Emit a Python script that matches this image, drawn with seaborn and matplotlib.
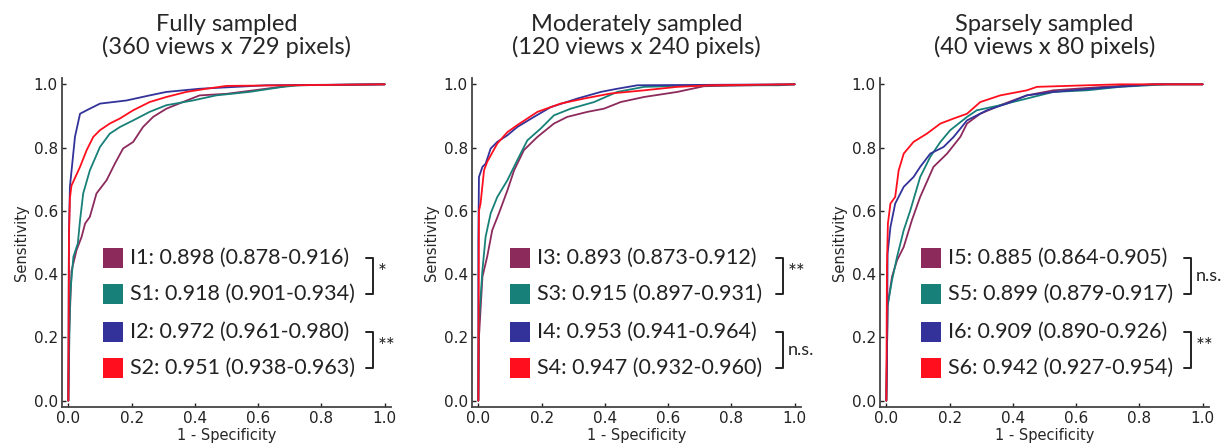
import pandas as pd
import matplotlib.pyplot as plt
import seaborn as sns
from matplotlib.patches import Rectangle

# panel titles
titles = ["Fully sampled\n(360 views x 729 pixels)",
          "Moderately sampled\n(120 views x 240 pixels)",
          "Sparsely sampled\n(40 views x 80 pixels)"]

# curve names per panel
names = [["I1", "S1", "I2", "S2"],
         ["I3", "S3", "I4", "S4"],
         ["I5", "S5", "I6", "S6"]]

# AUC (95% CI) per curve
auc = {"I1": "0.898 (0.878-0.916)", "S1": "0.918 (0.901-0.934)",
       "I2": "0.972 (0.961-0.980)", "S2": "0.951 (0.938-0.963)",
       "I3": "0.893 (0.873-0.912)", "S3": "0.915 (0.897-0.931)",
       "I4": "0.953 (0.941-0.964)", "S4": "0.947 (0.932-0.960)",
       "I5": "0.885 (0.864-0.905)", "S5": "0.899 (0.879-0.917)",
       "I6": "0.909 (0.890-0.926)", "S6": "0.942 (0.927-0.954)"}

# significance marks for the two pairs in each panel
sig = [["*", "**"], ["**", "n.s."], ["n.s.", "**"]]

# ROC points
fpr_I1 = [0, 0.002, 0.01, 0.026, 0.042, 0.053, 0.068, 0.089, 0.121, 0.147, 0.173, 0.205, 0.236, 0.268, 0.31, 0.362, 0.415, 0.5, 0.625, 0.709, 1.0]
tpr_I1 = [0, 0.2, 0.41, 0.476, 0.518, 0.56, 0.581, 0.655, 0.697, 0.749, 0.797, 0.818, 0.865, 0.897, 0.923, 0.944, 0.965, 0.97, 0.986, 0.997, 1.0]
fpr_S1 = [0, 0.005, 0.007, 0.016, 0.03, 0.037, 0.047, 0.068, 0.1, 0.131, 0.163, 0.205, 0.257, 0.31, 0.394, 0.467, 0.572, 0.678, 0.73, 1.0]
tpr_S1 = [0, 0.3, 0.35, 0.455, 0.497, 0.57, 0.655, 0.728, 0.802, 0.844, 0.865, 0.886, 0.913, 0.934, 0.949, 0.965, 0.976, 0.992, 0.997, 1.0]
fpr_I2 = [0, 0.002, 0.005, 0.021, 0.037, 0.058, 0.1, 0.184, 0.257, 0.31, 0.415, 0.625, 1.0]
tpr_I2 = [0, 0.53, 0.676, 0.834, 0.907, 0.918, 0.939, 0.949, 0.965, 0.976, 0.986, 0.997, 1.0]
fpr_S2 = [0, 0.002, 0.005, 0.01, 0.037, 0.058, 0.079, 0.1, 0.131, 0.163, 0.205, 0.257, 0.31, 0.373, 0.436, 0.5, 1.0]
tpr_S2 = [0, 0.52, 0.64, 0.68, 0.739, 0.792, 0.834, 0.855, 0.876, 0.892, 0.918, 0.944, 0.96, 0.976, 0.986, 0.995, 1.0]

fpr_I3 = [0, 0.002, 0.013, 0.028, 0.044, 0.065, 0.092, 0.113, 0.144, 0.187, 0.239, 0.281, 0.345, 0.397, 0.45, 0.524, 0.629, 0.713, 1.0]
tpr_I3 = [0, 0.2, 0.392, 0.455, 0.539, 0.592, 0.665, 0.728, 0.792, 0.834, 0.876, 0.897, 0.913, 0.923, 0.944, 0.96, 0.976, 0.994, 1.0]
fpr_S3 = [0, 0.002, 0.013, 0.023, 0.039, 0.06, 0.092, 0.123, 0.155, 0.197, 0.239, 0.292, 0.366, 0.439, 0.524, 0.734, 0.95, 1.0]
tpr_S3 = [0, 0.25, 0.413, 0.518, 0.592, 0.644, 0.697, 0.76, 0.823, 0.86, 0.902, 0.923, 0.944, 0.976, 0.992, 0.997, 0.997, 1.0]
fpr_I4 = [0, 0.0, 0.002, 0.013, 0.023, 0.039, 0.06, 0.092, 0.123, 0.176, 0.229, 0.313, 0.387, 0.439, 0.503, 1.0]
tpr_I4 = [0, 0.5, 0.707, 0.739, 0.749, 0.797, 0.818, 0.839, 0.865, 0.897, 0.928, 0.955, 0.976, 0.986, 0.997, 1.0]
fpr_S4 = [0, 0.002, 0.007, 0.018, 0.028, 0.06, 0.092, 0.123, 0.187, 0.26, 0.334, 0.418, 0.524, 0.629, 0.734, 1.0]
tpr_S4 = [0, 0.6, 0.623, 0.728, 0.755, 0.813, 0.849, 0.871, 0.913, 0.939, 0.955, 0.971, 0.981, 0.992, 0.997, 1.0]

fpr_I5 = [0, 0.004, 0.018, 0.034, 0.055, 0.081, 0.107, 0.149, 0.192, 0.234, 0.255, 0.297, 0.36, 0.444, 0.528, 0.686, 0.844, 1.0]
tpr_I5 = [0, 0.3, 0.392, 0.444, 0.486, 0.571, 0.644, 0.739, 0.781, 0.834, 0.876, 0.907, 0.934, 0.965, 0.981, 0.992, 1.0, 1.0]
fpr_S5 = [0, 0.004, 0.018, 0.034, 0.055, 0.076, 0.107, 0.139, 0.171, 0.202, 0.255, 0.286, 0.36, 0.444, 0.528, 0.634, 0.739, 0.886, 1.0]
tpr_S5 = [0, 0.3, 0.381, 0.455, 0.539, 0.602, 0.707, 0.771, 0.818, 0.855, 0.897, 0.918, 0.934, 0.955, 0.976, 0.981, 0.992, 1.0, 1.0]
fpr_I6 = [0, 0.002, 0.004, 0.013, 0.028, 0.055, 0.086, 0.107, 0.139, 0.181, 0.213, 0.255, 0.318, 0.381, 0.444, 0.528, 0.686, 0.844, 1.0]
tpr_I6 = [0, 0.12, 0.465, 0.549, 0.623, 0.676, 0.707, 0.739, 0.781, 0.802, 0.834, 0.886, 0.918, 0.939, 0.965, 0.976, 0.989, 1.0, 1.0]
fpr_S6 = [0, 0.002, 0.005, 0.013, 0.028, 0.039, 0.055, 0.086, 0.128, 0.171, 0.213, 0.255, 0.297, 0.36, 0.444, 0.476, 0.634, 0.74, 1.0]
tpr_S6 = [0, 0.43, 0.56, 0.623, 0.644, 0.728, 0.781, 0.818, 0.844, 0.876, 0.892, 0.907, 0.944, 0.965, 0.981, 0.992, 0.997, 1.0, 1.0]

fpr = {"I1": fpr_I1, "S1": fpr_S1, "I2": fpr_I2, "S2": fpr_S2,
       "I3": fpr_I3, "S3": fpr_S3, "I4": fpr_I4, "S4": fpr_S4,
       "I5": fpr_I5, "S5": fpr_S5, "I6": fpr_I6, "S6": fpr_S6}
tpr = {"I1": tpr_I1, "S1": tpr_S1, "I2": tpr_I2, "S2": tpr_S2,
       "I3": tpr_I3, "S3": tpr_S3, "I4": tpr_I4, "S4": tpr_S4,
       "I5": tpr_I5, "S5": tpr_S5, "I6": tpr_I6, "S6": tpr_S6}

colors = ["#8C2A5C", "#178078", "#32329A", "#FF0F1E"]

sns.set_style("white")
plt.rcParams["font.family"] = ["DejaVu Sans"]

fig = plt.figure(figsize=(12.23, 4.48), dpi=100)
lefts = [62, 472, 880]
sq_x = [0.11, 0.101, 0.11]
txt_x = [0.195, 0.184, 0.196]
row_y = [0.451, 0.338, 0.218, 0.104]

for p in range(3):
    ax = fig.add_axes([lefts[p] / 1223, 41 / 448, 329 / 1223, 329 / 448])
    rows = []
    for n in names[p]:
        for x, y in zip(fpr[n], tpr[n]):
            rows.append({"fpr": x, "tpr": y, "curve": n})
    df = pd.DataFrame(rows)
    sns.lineplot(data=df, x="fpr", y="tpr", hue="curve", hue_order=names[p],
                 palette=colors, sort=False, estimator=None, linewidth=1.3,
                 legend=False, ax=ax)

    ax.set_xlim(-0.02, 1.02)
    ax.set_ylim(-0.02, 1.02)
    ax.set_xticks([0, 0.2, 0.4, 0.6, 0.8, 1.0])
    ax.set_yticks([0, 0.2, 0.4, 0.6, 0.8, 1.0])
    ax.tick_params(bottom=True, left=True, direction="in", length=3, width=1,
                   labelsize=11, colors="#222222", pad=3)
    ax.set_xlabel("1 - Specificity", fontsize=10.5, labelpad=1)
    ax.set_ylabel("Sensitivity", fontsize=10.5, labelpad=3)
    ax.set_title(titles[p], fontsize=17, fontfamily="Lato", pad=17, linespacing=1.05)
    sns.despine(ax=ax)
    for s in ["left", "bottom"]:
        ax.spines[s].set_color("#444444")
        ax.spines[s].set_linewidth(1.3)

    # legend squares and AUC texts
    for i, n in enumerate(names[p]):
        ax.add_patch(Rectangle((sq_x[p], row_y[i] - 0.032), 0.063, 0.064,
                               facecolor=colors[i], edgecolor="none", clip_on=False))
        ax.text(txt_x[p], row_y[i], f"{n}: {auc[n]}", fontsize=15.5,
                fontfamily="Lato", va="center", ha="left", color="#222222")

    # significance brackets
    for k in range(2):
        ya, yb = row_y[2 * k], row_y[2 * k + 1]
        ax.plot([0.94, 0.963, 0.963, 0.94], [ya, ya, yb, yb], color="#222222",
                linewidth=1.4, clip_on=False)
        star = sig[p][k] != "n.s."
        ax.text(0.978, (ya + yb) / 2 + (0.01 if star else 0), sig[p][k],
                fontsize=15 if star else 13, fontfamily="Lato",
                va="center", ha="left", color="#222222")

fig.savefig("out.png", dpi=100)
